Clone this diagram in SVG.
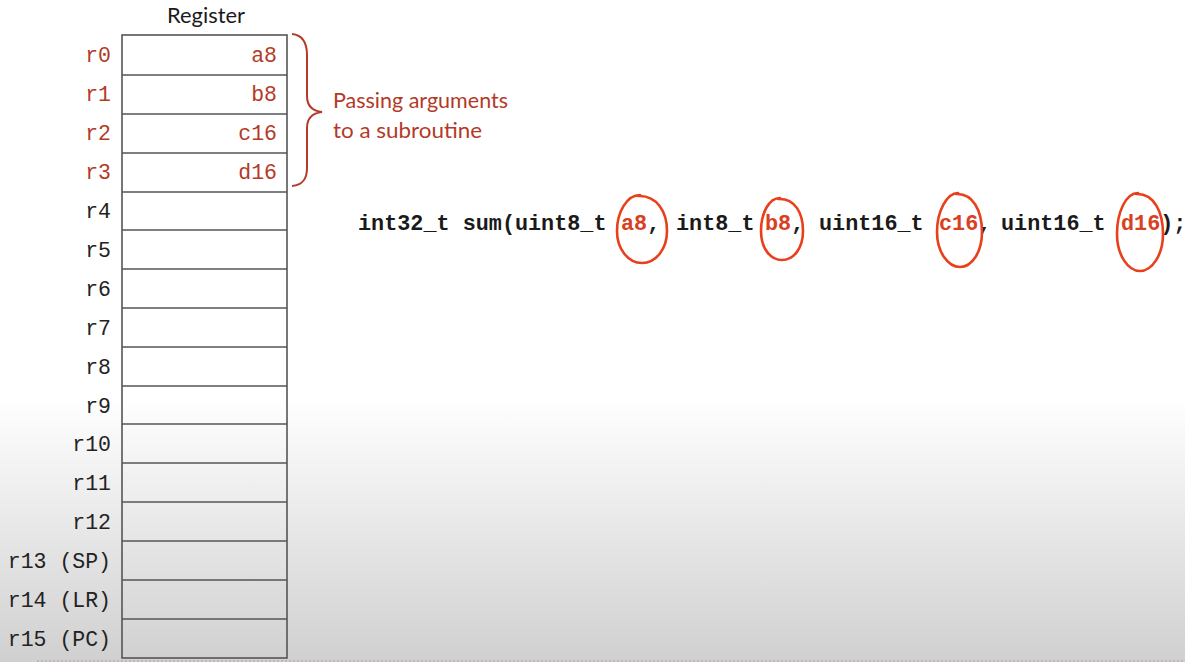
<svg xmlns="http://www.w3.org/2000/svg" width="1185" height="662" viewBox="0 0 1185 662">
<defs>
<linearGradient id="bg" x1="0" y1="0" x2="0" y2="662" gradientUnits="userSpaceOnUse">
<stop offset="0" stop-color="#ffffff"/>
<stop offset="0.6" stop-color="#ffffff"/>
<stop offset="1" stop-color="#d0d0d0"/>
</linearGradient>
<style>
.cell{fill:none;stroke:#555;stroke-width:1.6}
.lbl{font-family:"Liberation Mono","DejaVu Sans Mono",monospace;font-size:21.5px;fill:#222;text-anchor:end}
.red{fill:#b33a27}
.val{font-family:"Liberation Mono","DejaVu Sans Mono",monospace;font-size:21.5px;fill:#b33a27;text-anchor:end}
.code{font-family:"Liberation Mono","DejaVu Sans Mono",monospace;font-size:21.8px;font-weight:bold;fill:#1a1a1a}
.hl{fill:#d8401f}
.circ{fill:none;stroke:#e8401c;stroke-width:2.6;stroke-linecap:round;stroke-linejoin:round}
.note{font-family:Lato,"Open Sans",sans-serif;font-size:21px;fill:#b33a27}
</style>
</defs>
<rect x="0" y="0" width="1185" height="662" fill="url(#bg)"/>
<line x1="37" y1="661" x2="1185" y2="661" stroke="#c4a8a8" stroke-width="1.5" stroke-dasharray="2 2"/>

<text x="167" y="23" textLength="78" lengthAdjust="spacingAndGlyphs" font-family="Lato,'Open Sans',sans-serif" font-size="21" fill="#1a1a1a">Register</text>

<g id="registers">
<rect class="cell" x="122" y="35" width="165" height="623"/>
<path class="cell" d="M122,75H287M122,114H287M122,153H287M122,192H287M122,230H287M122,269H287M122,308H287M122,347H287M122,386H287M122,424H287M122,463H287M122,502H287M122,541H287M122,580H287M122,619H287"/>
</g>

<g id="labels">
<text class="lbl red" x="111" y="62">r0</text>
<text class="lbl red" x="111" y="101">r1</text>
<text class="lbl red" x="111" y="140">r2</text>
<text class="lbl red" x="111" y="179">r3</text>
<text class="lbl" x="111" y="218">r4</text>
<text class="lbl" x="111" y="257">r5</text>
<text class="lbl" x="111" y="296">r6</text>
<text class="lbl" x="111" y="335">r7</text>
<text class="lbl" x="111" y="374">r8</text>
<text class="lbl" x="111" y="413">r9</text>
<text class="lbl" x="111" y="451">r10</text>
<text class="lbl" x="111" y="490">r11</text>
<text class="lbl" x="111" y="529">r12</text>
<text class="lbl" x="111" y="568">r13 (SP)</text>
<text class="lbl" x="111" y="607">r14 (LR)</text>
<text class="lbl" x="111" y="646">r15 (PC)</text>
</g>

<g id="values">
<text class="val" x="277" y="62">a8</text>
<text class="val" x="277" y="101">b8</text>
<text class="val" x="277" y="140">c16</text>
<text class="val" x="277" y="179">d16</text>
</g>

<g id="brace">
<path d="M292,34 C302,35 307,42 307,55 L307,96 C307,106 313,111 322,112 C313,113 307,118 307,128 L307,168 C307,180 302,185 292,186" fill="none" stroke="#b33a27" stroke-width="2"/>
<text class="note" x="333" y="108" textLength="175" lengthAdjust="spacingAndGlyphs">Passing arguments</text>
<text class="note" x="333" y="138" textLength="149" lengthAdjust="spacingAndGlyphs">to a subroutine</text>
</g>

<g id="code">
<text class="code" y="230"><tspan x="358">int32_t sum(uint8_t</tspan><tspan x="621" class="hl">a8</tspan><tspan>,</tspan><tspan x="676">int8_t</tspan><tspan x="765" class="hl">b8</tspan><tspan>,</tspan><tspan x="819">uint16_t</tspan><tspan x="939" class="hl">c16</tspan><tspan>,</tspan><tspan x="1001">uint16_t</tspan><tspan x="1121" class="hl">d16</tspan><tspan>);</tspan></text>
</g>

<g id="circles">
<path class="circ" d="M640,195 C627,195 617,212 617,231 C617,249 628,263 642,263 C656,263 667,249 667,231 C667,212 657,195 638,196"/>
<path class="circ" d="M780,198 C769,198 761,213 761,231 C761,248 770,260 782,260 C794,260 803,248 803,231 C803,213 795,198 778,199"/>
<path class="circ" d="M958,193 C947,193 937,211 937,232 C937,252 948,267 960,267 C972,267 982,252 982,232 C982,211 973,193 956,194"/>
<path class="circ" d="M1138,193 C1126,193 1117,212 1117,234 C1117,255 1128,271 1140,271 C1152,271 1163,255 1163,234 C1163,212 1154,193 1136,194"/>
</g>
</svg>
